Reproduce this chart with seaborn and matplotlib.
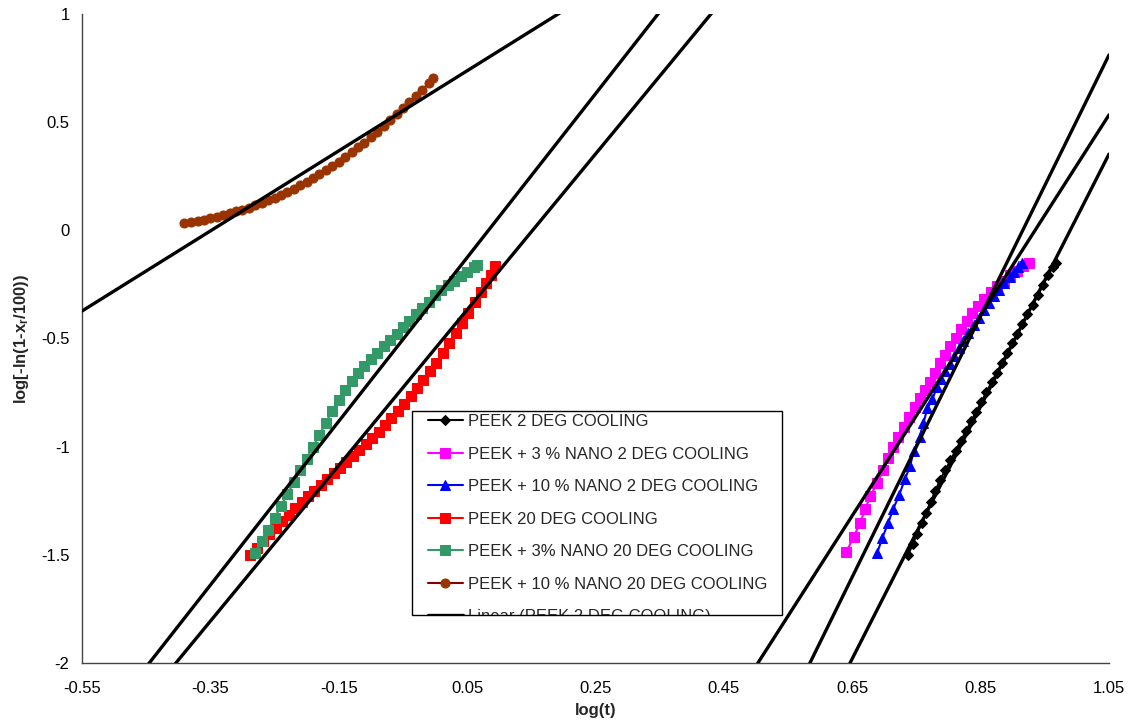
import matplotlib
matplotlib.use("Agg")
import matplotlib.pyplot as plt
import seaborn as sns
from matplotlib.patches import Rectangle
from matplotlib.transforms import Bbox, TransformedBbox

# ---- data ----
series_names = ["PEEK 2 DEG COOLING",
                "PEEK + 3 % NANO 2 DEG COOLING",
                "PEEK + 10 % NANO 2 DEG COOLING",
                "PEEK 20 DEG COOLING",
                "PEEK + 3% NANO 20 DEG COOLING",
                "PEEK + 10 % NANO 20 DEG COOLING"]
fit_name = "Linear (PEEK 2 DEG COOLING)"

x_peek_2 = [0.737, 0.744, 0.751, 0.758, 0.765, 0.772, 0.779, 0.787, 0.795, 0.803,
            0.811, 0.819, 0.827, 0.835, 0.843, 0.851, 0.859, 0.867, 0.875, 0.883,
            0.891, 0.899, 0.907, 0.915, 0.923, 0.931, 0.939, 0.947, 0.955, 0.962, 0.967]
y_peek_2 = [-1.501, -1.452, -1.403, -1.354, -1.305, -1.256, -1.207, -1.153, -1.108, -1.063,
            -1.018, -0.973, -0.928, -0.883, -0.838, -0.793, -0.748, -0.703, -0.658, -0.613,
            -0.568, -0.523, -0.478, -0.433, -0.388, -0.343, -0.298, -0.253, -0.208, -0.170, -0.150]

x_nano3_2 = [0.641, 0.652, 0.662, 0.670, 0.678, 0.689, 0.698, 0.706, 0.714, 0.722,
             0.730, 0.739, 0.748, 0.756, 0.763, 0.771, 0.779, 0.787, 0.795, 0.803,
             0.811, 0.819, 0.828, 0.837, 0.846, 0.856, 0.866, 0.876, 0.886, 0.896,
             0.906, 0.916, 0.926]
y_nano3_2 = [-1.486, -1.417, -1.355, -1.290, -1.228, -1.170, -1.108, -1.054, -1.000, -0.954,
             -0.908, -0.862, -0.816, -0.777, -0.738, -0.700, -0.661, -0.615, -0.575, -0.535,
             -0.496, -0.458, -0.420, -0.384, -0.350, -0.317, -0.287, -0.258, -0.232, -0.208,
             -0.186, -0.167, -0.151]

x_nano10_2 = [0.689, 0.697, 0.706, 0.714, 0.723, 0.732, 0.740, 0.746, 0.755, 0.761,
              0.767, 0.775, 0.782, 0.788, 0.795, 0.802, 0.809, 0.816, 0.823, 0.831,
              0.839, 0.847, 0.855, 0.863, 0.871, 0.879, 0.887, 0.895, 0.902, 0.909, 0.915]
y_nano10_2 = [-1.490, -1.421, -1.352, -1.287, -1.224, -1.151, -1.090, -1.019, -0.954, -0.890,
              -0.823, -0.781, -0.723, -0.688, -0.652, -0.616, -0.580, -0.545, -0.510, -0.474,
              -0.439, -0.404, -0.370, -0.337, -0.305, -0.274, -0.245, -0.218, -0.194, -0.171, -0.152]

x_peek_20 = [-0.288, -0.278, -0.268, -0.258, -0.248, -0.238, -0.228, -0.218, -0.208, -0.198,
             -0.188, -0.178, -0.168, -0.158, -0.148, -0.138, -0.128, -0.118, -0.108, -0.098,
             -0.088, -0.078, -0.068, -0.058, -0.048, -0.038, -0.028, -0.018, -0.008, 0.002,
             0.012, 0.022, 0.032, 0.042, 0.052, 0.062, 0.072, 0.080, 0.087, 0.094]
y_peek_20 = [-1.501, -1.469, -1.437, -1.405, -1.374, -1.344, -1.314, -1.285, -1.257, -1.230,
             -1.203, -1.176, -1.150, -1.124, -1.098, -1.071, -1.044, -1.016, -0.988, -0.959,
             -0.930, -0.900, -0.869, -0.836, -0.802, -0.767, -0.730, -0.692, -0.652, -0.611,
             -0.566, -0.521, -0.475, -0.428, -0.381, -0.333, -0.284, -0.245, -0.205, -0.165]

x_nano3_20 = [-0.280, -0.270, -0.260, -0.250, -0.240, -0.230, -0.220, -0.210, -0.200, -0.190,
              -0.180, -0.170, -0.160, -0.150, -0.140, -0.130, -0.120, -0.110, -0.100, -0.090,
              -0.080, -0.070, -0.060, -0.050, -0.040, -0.030, -0.020, -0.010, 0.000, 0.010,
              0.020, 0.030, 0.040, 0.050, 0.060, 0.065]
y_nano3_20 = [-1.490, -1.437, -1.384, -1.330, -1.274, -1.219, -1.164, -1.109, -1.055, -1.001,
              -0.946, -0.889, -0.833, -0.783, -0.737, -0.695, -0.658, -0.626, -0.596, -0.566,
              -0.536, -0.507, -0.477, -0.447, -0.417, -0.388, -0.358, -0.329, -0.299, -0.275,
              -0.254, -0.233, -0.212, -0.191, -0.170, -0.160]

x_nano10_20 = [-0.391, -0.380, -0.370, -0.360, -0.350, -0.340, -0.330, -0.320, -0.310, -0.300,
               -0.290, -0.280, -0.270, -0.260, -0.250, -0.240, -0.230, -0.220, -0.210, -0.200,
               -0.190, -0.180, -0.170, -0.160, -0.150, -0.140, -0.130, -0.120, -0.110, -0.100,
               -0.090, -0.080, -0.070, -0.060, -0.050, -0.040, -0.030, -0.020, -0.010, -0.003]
y_nano10_20 = [0.034, 0.038, 0.043, 0.049, 0.055, 0.062, 0.070, 0.079, 0.088, 0.096,
               0.105, 0.115, 0.126, 0.138, 0.150, 0.163, 0.177, 0.192, 0.208, 0.224,
               0.241, 0.259, 0.278, 0.297, 0.317, 0.338, 0.360, 0.383, 0.406, 0.430,
               0.455, 0.481, 0.508, 0.536, 0.564, 0.592, 0.621, 0.650, 0.680, 0.702]

# linear trend lines (slope, intercept), same order as series_names
fit_slope = [5.831, 4.632, 6.032, 3.599, 3.785, 1.851]
fit_intercept = [-5.770, -4.330, -5.523, -0.547, -0.315, 0.645]

xticks = [-0.55, -0.35, -0.15, 0.05, 0.25, 0.45, 0.65, 0.85, 1.05]
xtick_labels = ["-0.55", "-0.35", "-0.15", "0.05", "0.25", "0.45", "0.65", "0.85", "1.05"]
yticks = [-2, -1.5, -1, -0.5, 0, 0.5, 1]
ytick_labels = ["-2", "-1.5", "-1", "-0.5", "0", "0.5", "1"]

# ---- styling ----
sns.set_theme(style="white")
plt.rcParams['font.family'] = ['Liberation Sans', 'DejaVu Sans']
plt.rcParams['mathtext.default'] = 'regular'

fig = plt.figure(figsize=(11.37, 7.28), dpi=100)
ax = fig.add_axes([82 / 1137, 1 - 663 / 728, 1027 / 1137, 649 / 728])

xs = [x_peek_2, x_nano3_2, x_nano10_2, x_peek_20, x_nano3_20, x_nano10_20]
ys = [y_peek_2, y_nano3_2, y_nano10_2, y_peek_20, y_nano3_20, y_nano10_20]
colors = ["black", "#FF00FF", "#0000FF", "#FF0000", "#339966", "#800000"]
faces = ["black", "#FF00FF", "#0000FF", "#FF0000", "#339966", "#993300"]
markers = ["D", "s", "^", "s", "s", "o"]
msizes = [5, 7, 7.5, 7, 7, 6.5]

handles = []
for i in range(6):
    sns.lineplot(x=xs[i], y=ys[i], ax=ax, sort=False, estimator=None,
                 color=colors[i], marker=markers[i], markersize=msizes[i],
                 markerfacecolor=faces[i], markeredgecolor=faces[i],
                 linewidth=1.5, label=series_names[i], legend=False, zorder=3)
    handles.append(ax.lines[-1])

x_fit = [-0.55, 1.05]
for i in range(6):
    y_fit = [fit_slope[i] * v + fit_intercept[i] for v in x_fit]
    sns.lineplot(x=x_fit, y=y_fit, ax=ax, color="black", linewidth=2.4,
                 legend=False, zorder=4)
    if i == 0:
        handles.append(ax.lines[-1])

ax.set_xlim(-0.55, 1.05)
ax.set_ylim(-2, 1)
ax.set_xticks(xticks)
ax.set_xticklabels(xtick_labels)
ax.set_yticks(yticks)
ax.set_yticklabels(ytick_labels)
sns.despine(ax=ax)
for s in ["left", "bottom"]:
    ax.spines[s].set_color("#444444")
    ax.spines[s].set_linewidth(1)
ax.tick_params(axis="both", direction="out", length=5, width=1, color="#444444",
               labelsize=12, labelcolor="black")
ax.tick_params(axis="x", pad=8)
ax.tick_params(axis="y", pad=4)
ax.set_xlabel("log(t)", fontsize=12, fontweight="bold", labelpad=5)
ax.set_ylabel("log[-ln(1-x$_r$/100))", fontsize=12, fontweight="bold", labelpad=7)

# legend box (Excel-style, last entry cut off by the frame)
box = (0.3213, 0.074, 0.3603, 0.3143)
ax.add_patch(Rectangle(box[:2], box[2], box[3], transform=ax.transAxes,
                       facecolor="white", edgecolor="black", linewidth=1, zorder=5))
leg = ax.legend(handles, series_names + [fit_name], loc="upper left",
                bbox_to_anchor=(0.3369, 0.3835), frameon=False, fontsize=12,
                labelspacing=1.05, handlelength=2.1, handletextpad=0.3,
                borderpad=0, borderaxespad=0)
leg.set_zorder(6)
clip = TransformedBbox(Bbox.from_bounds(*box), ax.transAxes)
leg.get_texts()[6].set_clip_box(clip)
leg.get_texts()[6].set_clip_on(True)
leg.legend_handles[6].set_clip_box(clip)
leg.legend_handles[6].set_clip_on(True)

fig.savefig("out.png", dpi=100)
